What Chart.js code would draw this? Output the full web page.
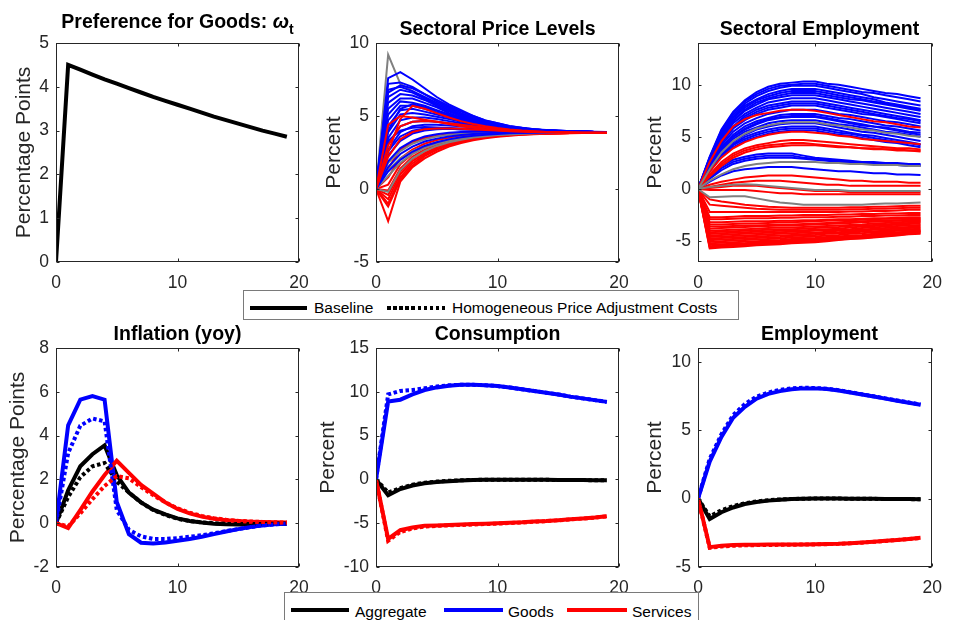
<!DOCTYPE html>
<html>
<head>
    <title>Goods preference shock | Impulse responses</title>
    <script src="https://cdn.jsdelivr.net/npm/chart.js"></script>
    <style>
        body { margin: 0; background: #fff; font-family: 'Liberation Sans', Arial, Helvetica, sans-serif; }
        #page { position: relative; width: 953px; height: 620px; overflow: hidden; }
        #page canvas { position: absolute; left: 0; top: 0; }
        .ttl { position: absolute; font-weight: bold; font-size: 19.5px; line-height: 20px; height: 20px;
               text-align: center; color: #000; white-space: nowrap; }
        .ttl sub { font-size: 14px; line-height: 0; vertical-align: -6px; }
        .lgbox { position: absolute; border: 1px solid #7a7a7a; background: #fff; }
        .lgtxt { position: absolute; font-size: 15.5px; line-height: 16px; color: #000; white-space: nowrap; }
        .lgline { position: absolute; height: 4px; }
    </style>
</head>
<body>
<div id="page">
    <canvas id="c1" width="953" height="620"></canvas>
    <canvas id="c2" width="953" height="620"></canvas>
    <canvas id="c3" width="953" height="620"></canvas>
    <canvas id="c4" width="953" height="620"></canvas>
    <canvas id="c5" width="953" height="620"></canvas>
    <canvas id="c6" width="953" height="620"></canvas>

    <div class="ttl" style="left:56px; top:11px; width:243px;">Preference for Goods: <i>&omega;</i><sub>t</sub></div>
    <div class="ttl" style="left:376px; top:18px; width:243px;">Sectoral Price Levels</div>
    <div class="ttl" style="left:698px; top:18px; width:243px;">Sectoral Employment</div>
    <div class="ttl" style="left:56px; top:323px; width:243px;">Inflation (yoy)</div>
    <div class="ttl" style="left:376px; top:323px; width:243px;">Consumption</div>
    <div class="ttl" style="left:698px; top:323px; width:243px;">Employment</div>

    <!-- legend: baseline vs homogeneous -->
    <div class="lgbox" style="left:243px; top:290px; width:494px; height:28px;"></div>
    <div class="lgline" style="left:250px; top:306px; width:57px; background:#000;"></div>
    <div class="lgtxt" style="left:314px; top:300px;">Baseline</div>
    <div class="lgline" style="left:387px; top:306px; width:61px; background:repeating-linear-gradient(to right,#000 0 3.5px,transparent 3.5px 6.1px);"></div>
    <div class="lgtxt" style="left:452px; top:300px;">Homogeneous Price Adjustment Costs</div>

    <!-- legend: sectors -->
    <div class="lgbox" style="left:284px; top:592px; width:413px; height:40px;"></div>
    <div class="lgline" style="left:291px; top:608px; width:58px; background:#000;"></div>
    <div class="lgtxt" style="left:355px; top:604px;">Aggregate</div>
    <div class="lgline" style="left:444px; top:608px; width:59px; background:#0000ff;"></div>
    <div class="lgtxt" style="left:508px; top:604px;">Goods</div>
    <div class="lgline" style="left:567px; top:608px; width:60px; background:#ff0000;"></div>
    <div class="lgtxt" style="left:632px; top:604px;">Services</div>
</div>

<script>
    const periods = [0, 1, 2, 3, 4, 5, 6, 7, 8, 9, 10, 11, 12, 13, 14, 15, 16, 17, 18, 19];
    const xTicks = [0, 10, 20];

    // preference for goods
    const omega = [0, 4.5, 4.39, 4.28, 4.17, 4.07, 3.97, 3.87, 3.77, 3.68, 3.59, 3.5, 3.41, 3.32, 3.24, 3.16, 3.08, 3.0, 2.93, 2.86];

    // inflation (yoy)
    const inflAggBase = [0, 1.5, 2.6, 3.15, 3.55, 2.2, 1.4, 0.95, 0.62, 0.4, 0.22, 0.1, 0.03, -0.02, -0.05, -0.06, -0.06, -0.05, -0.03, -0.02];
    const inflAggHom = [0, 1.2, 2.1, 2.6, 2.75, 1.9, 1.4, 0.95, 0.6, 0.38, 0.2, 0.1, 0.04, 0, -0.03, -0.04, -0.04, -0.03, -0.02, -0.01];
    const inflGoodsBase = [0, 4.47, 5.64, 5.8, 5.64, 0.97, -0.5, -0.89, -0.93, -0.88, -0.8, -0.72, -0.62, -0.5, -0.38, -0.27, -0.17, -0.1, -0.05, -0.02];
    const inflGoodsHom = [0, 3.2, 4.45, 4.78, 4.65, 0.6, -0.3, -0.6, -0.72, -0.72, -0.68, -0.62, -0.55, -0.46, -0.36, -0.27, -0.18, -0.1, -0.05, -0.02];
    const inflServBase = [0, -0.22, 0.6, 1.45, 2.2, 2.85, 2.3, 1.75, 1.35, 0.95, 0.65, 0.45, 0.3, 0.2, 0.14, 0.1, 0.07, 0.05, 0.04, 0.03];
    const inflServHom = [0, -0.15, 0.45, 1.1, 1.7, 2.15, 2.05, 1.65, 1.28, 0.95, 0.68, 0.48, 0.33, 0.23, 0.16, 0.11, 0.08, 0.06, 0.04, 0.03];

    // consumption
    const consAggBase = [0, -1.8, -1.1, -0.7, -0.45, -0.3, -0.2, -0.12, -0.08, -0.05, -0.03, -0.03, -0.03, -0.04, -0.05, -0.06, -0.07, -0.08, -0.09, -0.1];
    const consAggHom = [0, -1.5, -1.0, -0.6, -0.38, -0.25, -0.16, -0.1, -0.06, -0.04, -0.03, -0.03, -0.03, -0.04, -0.05, -0.06, -0.07, -0.08, -0.09, -0.1];
    const consGoodsBase = [0, 8.9, 9.1, 9.7, 10.2, 10.5, 10.7, 10.8, 10.8, 10.75, 10.65, 10.5, 10.3, 10.1, 9.9, 9.7, 9.45, 9.25, 9.05, 8.85];
    const consGoodsHom = [0, 9.7, 10.1, 10.2, 10.4, 10.6, 10.75, 10.8, 10.8, 10.75, 10.65, 10.5, 10.3, 10.1, 9.9, 9.7, 9.45, 9.25, 9.05, 8.85];
    const consServBase = [0, -6.8, -5.8, -5.5, -5.3, -5.25, -5.2, -5.15, -5.1, -5.05, -5.0, -4.95, -4.9, -4.8, -4.75, -4.65, -4.55, -4.45, -4.35, -4.2];
    const consServHom = [0, -7.0, -6.0, -5.6, -5.4, -5.3, -5.25, -5.2, -5.15, -5.1, -5.05, -4.98, -4.92, -4.83, -4.77, -4.67, -4.57, -4.47, -4.36, -4.22];

    // employment
    const empAggBase = [0, -1.5, -1.0, -0.65, -0.4, -0.25, -0.15, -0.08, -0.04, -0.02, 0, 0, 0, -0.01, -0.02, -0.02, -0.03, -0.03, -0.04, -0.05];
    const empAggHom = [0, -1.3, -0.85, -0.55, -0.34, -0.21, -0.12, -0.06, -0.03, -0.01, 0, 0, 0, -0.01, -0.02, -0.02, -0.03, -0.03, -0.04, -0.05];
    const empGoodsBase = [0, 2.7, 4.5, 5.9, 6.7, 7.3, 7.65, 7.85, 7.98, 8.05, 8.05, 8.0, 7.9, 7.75, 7.6, 7.45, 7.3, 7.15, 7.0, 6.85];
    const empGoodsHom = [0, 2.9, 4.7, 6.1, 6.9, 7.45, 7.75, 7.95, 8.05, 8.1, 8.08, 8.02, 7.92, 7.77, 7.62, 7.47, 7.32, 7.17, 7.02, 6.87];
    const empServBase = [0, -3.55, -3.45, -3.4, -3.38, -3.37, -3.36, -3.36, -3.35, -3.35, -3.34, -3.32, -3.3, -3.26, -3.21, -3.15, -3.09, -3.02, -2.95, -2.87];
    const empServHom = [0, -3.6, -3.5, -3.45, -3.42, -3.4, -3.39, -3.38, -3.37, -3.36, -3.35, -3.33, -3.31, -3.27, -3.22, -3.16, -3.1, -3.03, -2.96, -2.88];

    // sectoral price levels
    const priceGoods = [
        [0, 7.6, 8.0, 7.5, 6.9, 6.3, 5.8, 5.4, 5.0, 4.7, 4.5, 4.3, 4.2, 4.1, 4.0, 4.0, 3.95, 3.93, 3.92, 3.9],
        [0, 7.2, 7.3, 7.0, 6.5, 6.0, 5.6, 5.2, 4.9, 4.6, 4.4, 4.25, 4.15, 4.08, 4.02, 3.98, 3.95, 3.93, 3.91, 3.9],
        [0, 6.8, 7.0, 6.7, 6.3, 5.9, 5.5, 5.1, 4.8, 4.6, 4.4, 4.25, 4.15, 4.07, 4.02, 3.98, 3.95, 3.93, 3.91, 3.9],
        [0, 6.6, 7.1, 6.9, 6.5, 6.1, 5.7, 5.3, 5.0, 4.7, 4.5, 4.32, 4.2, 4.1, 4.04, 4.0, 3.96, 3.93, 3.91, 3.9],
        [0, 6.3, 6.8, 6.6, 6.2, 5.8, 5.4, 5.0, 4.75, 4.55, 4.4, 4.25, 4.15, 4.07, 4.02, 3.98, 3.95, 3.93, 3.91, 3.9],
        [0, 5.9, 6.5, 6.4, 6.1, 5.7, 5.3, 5.0, 4.7, 4.5, 4.35, 4.2, 4.12, 4.05, 4.0, 3.97, 3.95, 3.93, 3.91, 3.9],
        [0, 5.5, 6.2, 6.2, 5.9, 5.6, 5.2, 4.9, 4.65, 4.45, 4.3, 4.2, 4.1, 4.05, 4.0, 3.97, 3.95, 3.93, 3.91, 3.9],
        [0, 5.1, 6.0, 5.9, 5.7, 5.4, 5.1, 4.85, 4.6, 4.42, 4.28, 4.18, 4.1, 4.04, 4.0, 3.97, 3.94, 3.92, 3.91, 3.9],
        [0, 4.7, 5.7, 5.7, 5.5, 5.25, 5.0, 4.75, 4.55, 4.4, 4.25, 4.15, 4.08, 4.03, 3.99, 3.96, 3.94, 3.92, 3.91, 3.9],
        [0, 4.0, 5.5, 5.8, 5.6, 5.35, 5.1, 4.85, 4.62, 4.45, 4.3, 4.2, 4.1, 4.04, 4.0, 3.97, 3.94, 3.92, 3.91, 3.9],
        [0, 4.3, 5.4, 5.5, 5.3, 5.1, 4.9, 4.7, 4.5, 4.35, 4.22, 4.13, 4.07, 4.02, 3.99, 3.96, 3.94, 3.92, 3.91, 3.9],
        [0, 3.9, 5.1, 5.2, 5.1, 4.95, 4.8, 4.6, 4.45, 4.3, 4.2, 4.12, 4.06, 4.02, 3.98, 3.96, 3.94, 3.92, 3.91, 3.9],
        [0, 3.5, 4.7, 4.9, 4.9, 4.8, 4.65, 4.5, 4.38, 4.27, 4.18, 4.1, 4.05, 4.01, 3.98, 3.96, 3.94, 3.92, 3.91, 3.9],
        [0, 3.1, 4.3, 4.6, 4.65, 4.6, 4.5, 4.4, 4.3, 4.2, 4.13, 4.07, 4.03, 4.0, 3.97, 3.95, 3.93, 3.92, 3.91, 3.9],
        [0, 3.3, 4.0, 4.2, 4.25, 4.22, 4.18, 4.14, 4.1, 4.06, 4.02, 3.99, 3.97, 3.95, 3.94, 3.93, 3.92, 3.91, 3.9, 3.9],
        [0, 2.7, 3.9, 4.3, 4.4, 4.4, 4.35, 4.3, 4.22, 4.15, 4.1, 4.05, 4.01, 3.98, 3.96, 3.94, 3.93, 3.92, 3.91, 3.9],
        [0, 2.6, 3.6, 4.0, 4.15, 4.15, 4.12, 4.08, 4.05, 4.02, 4.0, 3.98, 3.96, 3.95, 3.94, 3.93, 3.92, 3.91, 3.9, 3.9],
        [0, 2.3, 3.3, 3.8, 4.0, 4.1, 4.12, 4.1, 4.08, 4.05, 4.02, 4.0, 3.98, 3.96, 3.95, 3.94, 3.93, 3.92, 3.91, 3.9],
        [0, 1.9, 2.8, 3.3, 3.6, 3.75, 3.85, 3.9, 3.92, 3.93, 3.93, 3.93, 3.92, 3.92, 3.91, 3.91, 3.9, 3.9, 3.9, 3.9],
        [0, 1.5, 2.4, 2.9, 3.25, 3.45, 3.6, 3.7, 3.77, 3.82, 3.85, 3.87, 3.88, 3.89, 3.89, 3.9, 3.9, 3.9, 3.9, 3.9],
        [0, 1.2, 2.0, 2.55, 2.95, 3.2, 3.4, 3.55, 3.65, 3.72, 3.77, 3.81, 3.84, 3.86, 3.87, 3.88, 3.89, 3.89, 3.9, 3.9]
    ];
    const priceServicesHigh = [
        [0, 4.4, 5.0, 4.9, 4.75, 4.6, 4.45, 4.3, 4.2, 4.1, 4.02, 3.97, 3.93, 3.9, 3.88, 3.87, 3.86, 3.86, 3.85, 3.85],
        [0, 2.5, 4.8, 5.7, 5.5, 5.2, 4.9, 4.65, 4.45, 4.3, 4.18, 4.08, 4.0, 3.95, 3.91, 3.89, 3.87, 3.86, 3.85, 3.85],
        [0, 3.0, 4.3, 4.6, 4.65, 4.6, 4.5, 4.4, 4.3, 4.2, 4.1, 4.03, 3.98, 3.94, 3.91, 3.89, 3.87, 3.86, 3.85, 3.85],
        [0, 2.2, 3.4, 3.9, 4.1, 4.15, 4.15, 4.12, 4.08, 4.04, 4.0, 3.96, 3.93, 3.91, 3.89, 3.88, 3.87, 3.86, 3.85, 3.85]
    ];
    const priceServicesLow = [
        [0, 1.4, 2.7, 3.2, 3.5, 3.65, 3.75, 3.8, 3.83, 3.84, 3.85, 3.85, 3.85, 3.85, 3.85, 3.85, 3.85, 3.85, 3.85, 3.85],
        [0, 0.8, 2.1, 2.7, 3.1, 3.35, 3.5, 3.62, 3.7, 3.75, 3.78, 3.8, 3.82, 3.83, 3.84, 3.84, 3.85, 3.85, 3.85, 3.85],
        [0, 0.3, 1.7, 2.4, 2.85, 3.15, 3.35, 3.5, 3.6, 3.67, 3.72, 3.76, 3.79, 3.81, 3.82, 3.83, 3.84, 3.84, 3.85, 3.85],
        [0, -0.1, 1.4, 2.2, 2.7, 3.0, 3.25, 3.42, 3.54, 3.63, 3.69, 3.74, 3.77, 3.8, 3.81, 3.82, 3.83, 3.84, 3.85, 3.85],
        [0, -0.4, 1.2, 2.05, 2.6, 2.95, 3.2, 3.38, 3.5, 3.6, 3.67, 3.72, 3.76, 3.79, 3.81, 3.82, 3.83, 3.84, 3.85, 3.85],
        [0, -0.7, 1.0, 1.9, 2.45, 2.85, 3.12, 3.32, 3.46, 3.57, 3.65, 3.71, 3.75, 3.78, 3.8, 3.82, 3.83, 3.84, 3.85, 3.85],
        [0, -1.0, 0.8, 1.75, 2.35, 2.75, 3.05, 3.27, 3.43, 3.55, 3.63, 3.7, 3.74, 3.78, 3.8, 3.82, 3.83, 3.84, 3.85, 3.85],
        [0, -1.2, 0.65, 1.6, 2.25, 2.68, 3.0, 3.23, 3.4, 3.52, 3.61, 3.68, 3.73, 3.77, 3.8, 3.82, 3.83, 3.84, 3.85, 3.85],
        [0, -2.2, 0.5, 1.5, 2.1, 2.55, 2.9, 3.15, 3.33, 3.47, 3.57, 3.65, 3.71, 3.75, 3.78, 3.8, 3.82, 3.83, 3.84, 3.85]
    ];
    const priceOther = [
        [0, 9.2, 7.2, 6.7, 6.2, 5.8, 5.4, 5.1, 4.8, 4.6, 4.4, 4.25, 4.15, 4.07, 4.02, 3.98, 3.95, 3.93, 3.91, 3.9],
        [0, 1.8, 2.6, 3.1, 3.4, 3.6, 3.72, 3.8, 3.85, 3.87, 3.88, 3.89, 3.89, 3.9, 3.9, 3.9, 3.9, 3.9, 3.9, 3.9],
        [0, 1.3, 2.1, 2.6, 2.95, 3.2, 3.4, 3.55, 3.65, 3.72, 3.77, 3.8, 3.83, 3.85, 3.86, 3.87, 3.88, 3.89, 3.89, 3.9],
        [0, 0.9, 1.8, 2.4, 2.8, 3.1, 3.32, 3.48, 3.6, 3.68, 3.74, 3.78, 3.82, 3.84, 3.86, 3.87, 3.88, 3.89, 3.89, 3.9],
        [0, -0.2, 1.3, 2.1, 2.6, 2.95, 3.2, 3.38, 3.52, 3.62, 3.69, 3.74, 3.78, 3.81, 3.83, 3.85, 3.86, 3.87, 3.88, 3.9]
    ];

    // sectoral employment
    const sectEmpGoods = [
        [0, 3.1, 5.7, 7.4, 8.5, 9.3, 9.8, 10.1, 10.2, 10.3, 10.3, 10.1, 10.0, 9.8, 9.6, 9.4, 9.2, 9.1, 8.9, 8.7],
        [0, 3.0, 5.6, 7.3, 8.4, 9.1, 9.6, 9.9, 10.0, 10.1, 10.1, 9.9, 9.7, 9.5, 9.3, 9.2, 9.0, 8.8, 8.6, 8.4],
        [0, 3.0, 5.4, 7.1, 8.2, 8.9, 9.4, 9.7, 9.9, 9.9, 9.9, 9.7, 9.5, 9.3, 9.1, 8.8, 8.6, 8.4, 8.2, 8.0],
        [0, 2.9, 5.3, 6.9, 8.0, 8.6, 9.1, 9.4, 9.6, 9.6, 9.6, 9.4, 9.2, 9.0, 8.8, 8.6, 8.3, 8.1, 7.9, 7.7],
        [0, 2.8, 5.2, 6.8, 7.8, 8.5, 8.9, 9.2, 9.4, 9.4, 9.4, 9.2, 9.0, 8.8, 8.6, 8.4, 8.2, 8.0, 7.8, 7.6],
        [0, 2.8, 5.1, 6.6, 7.6, 8.3, 8.7, 9.0, 9.2, 9.2, 9.2, 9.0, 8.8, 8.6, 8.5, 8.3, 8.1, 7.9, 7.7, 7.5],
        [0, 2.7, 5.0, 6.5, 7.5, 8.1, 8.6, 8.8, 9.0, 9.0, 9.0, 8.8, 8.6, 8.4, 8.2, 8.0, 7.8, 7.6, 7.4, 7.2],
        [0, 2.6, 4.8, 6.3, 7.2, 7.8, 8.3, 8.5, 8.7, 8.7, 8.7, 8.5, 8.3, 8.1, 7.9, 7.7, 7.5, 7.3, 7.1, 6.9],
        [0, 2.5, 4.6, 6.0, 7.0, 7.6, 8.0, 8.2, 8.4, 8.4, 8.4, 8.2, 8.0, 7.8, 7.6, 7.4, 7.2, 7.0, 6.8, 6.6],
        [0, 2.5, 4.5, 5.9, 6.8, 7.4, 7.8, 8.0, 8.2, 8.2, 8.2, 8.0, 7.8, 7.6, 7.4, 7.2, 7.0, 6.8, 6.7, 6.5],
        [0, 2.4, 4.4, 5.8, 6.6, 7.2, 7.6, 7.8, 8.0, 8.0, 8.0, 7.8, 7.6, 7.4, 7.2, 7.1, 6.9, 6.7, 6.5, 6.3],
        [0, 2.3, 4.2, 5.5, 6.3, 6.8, 7.2, 7.4, 7.6, 7.6, 7.6, 7.4, 7.2, 7.1, 6.9, 6.7, 6.5, 6.4, 6.2, 6.0],
        [0, 2.2, 4.0, 5.2, 6.0, 6.5, 6.8, 7.1, 7.2, 7.2, 7.2, 7.0, 6.8, 6.7, 6.5, 6.3, 6.1, 6.0, 5.8, 5.6],
        [0, 2.1, 3.9, 5.0, 5.8, 6.3, 6.7, 6.9, 7.0, 7.0, 7.0, 6.8, 6.6, 6.4, 6.2, 6.0, 5.9, 5.7, 5.5, 5.4],
        [0, 2.1, 3.8, 5.0, 5.7, 6.2, 6.6, 6.8, 6.9, 6.9, 6.9, 6.7, 6.5, 6.3, 6.1, 6.0, 5.8, 5.6, 5.4, 5.2],
        [0, 2.0, 3.6, 4.8, 5.5, 5.9, 6.3, 6.5, 6.6, 6.6, 6.6, 6.4, 6.2, 6.1, 5.9, 5.7, 5.5, 5.4, 5.2, 5.0],
        [0, 1.9, 3.5, 4.5, 5.2, 5.7, 6.0, 6.2, 6.3, 6.3, 6.3, 6.1, 5.9, 5.7, 5.5, 5.4, 5.2, 5.0, 4.8, 4.6],
        [0, 1.8, 3.3, 4.3, 5.0, 5.4, 5.7, 5.9, 6.0, 6.0, 6.0, 5.8, 5.6, 5.4, 5.2, 5.1, 4.9, 4.7, 4.5, 4.3],
        [0, 1.7, 3.2, 4.2, 4.8, 5.2, 5.5, 5.7, 5.8, 5.8, 5.8, 5.6, 5.4, 5.3, 5.1, 4.9, 4.7, 4.5, 4.4, 4.2],
        [0, 1.7, 3.1, 4.0, 4.6, 5.0, 5.3, 5.5, 5.6, 5.6, 5.6, 5.4, 5.2, 5.1, 4.9, 4.7, 4.5, 4.4, 4.2, 4.0],
        [0, 1.2, 2.2, 2.8, 3.1, 3.3, 3.4, 3.4, 3.4, 3.2, 3.0, 2.9, 2.8, 2.7, 2.6, 2.6, 2.5, 2.5, 2.4, 2.4],
        [0, 1.1, 2.0, 2.6, 2.9, 3.1, 3.2, 3.2, 3.2, 3.0, 2.9, 2.8, 2.7, 2.6, 2.5, 2.5, 2.4, 2.4, 2.3, 2.3],
        [0, 1.0, 1.8, 2.4, 2.7, 2.9, 3.0, 3.0, 3.0, 2.9, 2.8, 2.7, 2.6, 2.5, 2.4, 2.4, 2.3, 2.3, 2.2, 2.2],
        [0, 0.7, 1.3, 1.7, 1.9, 2.0, 2.1, 2.1, 2.1, 2.0, 1.9, 1.8, 1.7, 1.7, 1.6, 1.5, 1.5, 1.4, 1.4, 1.35]
    ];
    const sectEmpServices = [
        [0, 2.6, 4.6, 6.0, 6.7, 7.1, 7.3, 7.5, 7.6, 7.6, 7.5, 7.3, 7.1, 6.9, 6.7, 6.5, 6.4, 6.2, 6.0, 5.9],
        [0, 1.7, 3.0, 3.9, 4.5, 4.9, 5.2, 5.4, 5.5, 5.5, 5.4, 5.3, 5.1, 5.0, 4.8, 4.7, 4.6, 4.5, 4.4, 4.3],
        [0, 1.4, 2.6, 3.4, 3.9, 4.2, 4.4, 4.6, 4.7, 4.7, 4.6, 4.5, 4.4, 4.3, 4.2, 4.1, 4.0, 3.9, 3.9, 3.8],
        [0, 1.3, 2.4, 3.2, 3.7, 4.0, 4.2, 4.3, 4.4, 4.4, 4.3, 4.2, 4.1, 4.0, 3.9, 3.8, 3.8, 3.7, 3.7, 3.6],
        [0, 1.2, 2.2, 3.0, 3.5, 3.8, 4.0, 4.1, 4.2, 4.2, 4.2, 4.1, 4.0, 4.0, 3.9, 3.9, 3.8, 3.8, 3.7, 3.7],
        [0, 0.4, 0.7, 0.9, 1.1, 1.2, 1.3, 1.3, 1.3, 1.2, 1.1, 1.0, 0.9, 0.8, 0.8, 0.7, 0.7, 0.7, 0.6, 0.6],
        [0, 0.2, 0.4, 0.6, 0.7, 0.8, 0.8, 0.8, 0.7, 0.6, 0.5, 0.4, 0.4, 0.3, 0.3, 0.3, 0.3, 0.3, 0.3, 0.3],
        [0, 0.1, 0.2, 0.3, 0.3, 0.3, 0.2, 0.1, 0.0, -0.1, -0.2, -0.2, -0.2, -0.3, -0.3, -0.3, -0.3, -0.3, -0.3, -0.3],
        [0, -0.1, -0.1, -0.1, -0.1, -0.2, -0.3, -0.4, -0.4, -0.5, -0.5, -0.5, -0.5, -0.5, -0.5, -0.5, -0.5, -0.5, -0.5, -0.5],
        [0, -1.0, -1.2, -1.35, -1.5, -1.6, -1.7, -1.75, -1.8, -1.8, -1.8, -1.8, -1.8, -1.75, -1.75, -1.7, -1.7, -1.65, -1.6, -1.6],
        [0, -1.5, -1.6, -1.7, -1.8, -1.9, -1.95, -2.0, -2.0, -2.0, -2.0, -2.0, -2.0, -1.95, -1.95, -1.9, -1.9, -1.85, -1.8, -1.8],
        [0, -2.2, -2.2, -2.2, -2.2, -2.2, -2.2, -2.2, -2.2, -2.2, -2.2, -2.2, -2.2, -2.15, -2.15, -2.1, -2.1, -2.05, -2.0, -2.0],
        [0, -2.7, -2.7, -2.65, -2.6, -2.6, -2.6, -2.55, -2.55, -2.5, -2.5, -2.5, -2.45, -2.45, -2.4, -2.4, -2.35, -2.35, -2.3, -2.3],
        [0, -2.9, -2.9, -2.85, -2.8, -2.8, -2.8, -2.75, -2.75, -2.7, -2.7, -2.7, -2.65, -2.65, -2.6, -2.6, -2.55, -2.55, -2.5, -2.5],
        [0, -3.2, -3.2, -3.15, -3.1, -3.1, -3.1, -3.05, -3.05, -3.0, -3.0, -2.95, -2.9, -2.9, -2.85, -2.8, -2.8, -2.75, -2.7, -2.7],
        [0, -3.4, -3.4, -3.35, -3.3, -3.3, -3.25, -3.2, -3.2, -3.15, -3.1, -3.05, -3.0, -3.0, -2.95, -2.9, -2.85, -2.85, -2.8, -2.8],
        [0, -3.6, -3.6, -3.55, -3.5, -3.5, -3.45, -3.4, -3.4, -3.35, -3.3, -3.25, -3.2, -3.15, -3.1, -3.05, -3.0, -3.0, -2.95, -2.9],
        [0, -3.8, -3.75, -3.7, -3.65, -3.6, -3.55, -3.5, -3.5, -3.45, -3.4, -3.35, -3.3, -3.25, -3.2, -3.15, -3.1, -3.05, -3.0, -3.0],
        [0, -4.0, -3.95, -3.9, -3.85, -3.8, -3.75, -3.7, -3.7, -3.65, -3.6, -3.55, -3.5, -3.45, -3.4, -3.3, -3.25, -3.2, -3.15, -3.1],
        [0, -4.15, -4.1, -4.05, -4.0, -3.95, -3.9, -3.85, -3.85, -3.8, -3.75, -3.7, -3.65, -3.55, -3.5, -3.45, -3.4, -3.3, -3.25, -3.2],
        [0, -4.3, -4.25, -4.2, -4.15, -4.1, -4.05, -4.0, -4.0, -3.95, -3.9, -3.85, -3.8, -3.7, -3.6, -3.55, -3.5, -3.4, -3.35, -3.3],
        [0, -4.45, -4.4, -4.35, -4.3, -4.25, -4.2, -4.15, -4.1, -4.05, -4.0, -3.95, -3.9, -3.85, -3.75, -3.7, -3.6, -3.55, -3.5, -3.45],
        [0, -4.6, -4.55, -4.5, -4.45, -4.4, -4.35, -4.3, -4.25, -4.2, -4.2, -4.1, -4.0, -3.95, -3.9, -3.8, -3.75, -3.7, -3.65, -3.6],
        [0, -4.75, -4.7, -4.65, -4.6, -4.55, -4.5, -4.45, -4.4, -4.35, -4.3, -4.2, -4.15, -4.05, -4.0, -3.9, -3.85, -3.8, -3.75, -3.7],
        [0, -4.9, -4.85, -4.8, -4.75, -4.7, -4.65, -4.6, -4.5, -4.45, -4.4, -4.3, -4.25, -4.2, -4.1, -4.05, -4.0, -3.9, -3.85, -3.8],
        [0, -5.05, -5.0, -4.95, -4.9, -4.85, -4.8, -4.75, -4.65, -4.6, -4.55, -4.45, -4.4, -4.3, -4.25, -4.15, -4.1, -4.0, -3.95, -3.9],
        [0, -5.2, -5.15, -5.1, -5.05, -5.0, -4.95, -4.9, -4.8, -4.75, -4.7, -4.6, -4.55, -4.45, -4.4, -4.3, -4.2, -4.15, -4.1, -4.0],
        [0, -5.35, -5.3, -5.25, -5.2, -5.1, -5.05, -5.0, -4.9, -4.85, -4.8, -4.7, -4.65, -4.55, -4.5, -4.4, -4.3, -4.2, -4.15, -4.05],
        [0, -5.5, -5.4, -5.35, -5.3, -5.2, -5.15, -5.1, -5.0, -4.95, -4.9, -4.8, -4.75, -4.65, -4.6, -4.5, -4.4, -4.3, -4.2, -4.1],
        [0, -5.6, -5.5, -5.45, -5.4, -5.3, -5.25, -5.2, -5.1, -5.05, -5.0, -4.9, -4.85, -4.75, -4.7, -4.6, -4.5, -4.4, -4.3, -4.2],
        [0, -5.7, -5.6, -5.55, -5.5, -5.4, -5.35, -5.3, -5.2, -5.15, -5.1, -5.0, -4.9, -4.8, -4.75, -4.65, -4.55, -4.45, -4.35, -4.3]
    ];
    const sectEmpOther = [
        [0, 1.9, 3.5, 4.6, 5.3, 5.8, 6.1, 6.3, 6.4, 6.4, 6.4, 6.2, 6.1, 5.9, 5.7, 5.6, 5.4, 5.3, 5.1, 5.0],
        [0, 0.8, 1.4, 1.9, 2.2, 2.4, 2.5, 2.6, 2.6, 2.6, 2.6, 2.5, 2.5, 2.4, 2.4, 2.3, 2.3, 2.3, 2.2, 2.2],
        [0, 0.2, 0.3, 0.4, 0.45, 0.4, 0.3, 0.2, 0.1, 0.0, -0.1, -0.1, -0.1, -0.2, -0.2, -0.2, -0.2, -0.2, -0.2, -0.2],
        [0, -0.8, -0.75, -0.7, -0.7, -0.9, -1.1, -1.3, -1.4, -1.5, -1.5, -1.5, -1.5, -1.5, -1.5, -1.45, -1.4, -1.4, -1.35, -1.3]
    ];

    const W = 953, H = 620, X_AXIS_H = 30;
    const FONT = "'Liberation Sans', Arial, Helvetica, sans-serif";
    const AXIS_COLOR = '#262626';
    const BLACK = '#000000', BLUE = '#0000ff', RED = '#ff0000', GRAY = '#808080';
    const DOTS = [3.5, 2.6];

    function line(values, color, width, dash) {
        return {
            data: values.map((v, i) => ({ x: periods[i], y: v })),
            borderColor: color,
            borderWidth: width,
            borderDash: dash || [],
            borderCapStyle: 'butt',
            pointRadius: 0,
            fill: false,
            tension: 0
        };
    }

    // box and inward tick marks, matlab style
    const frame = {
        id: 'frame',
        afterDatasetsDraw(chart) {
            const { ctx, chartArea: a, scales: { x, y } } = chart;
            ctx.save();
            ctx.strokeStyle = AXIS_COLOR;
            ctx.lineWidth = 1;
            const l = Math.round(a.left) + 0.5, r = Math.round(a.right) - 0.5;
            const t = Math.round(a.top) + 0.5, b = Math.round(a.bottom) - 0.5;
            ctx.strokeRect(l, t, r - l, b - t);
            ctx.beginPath();
            x.ticks.forEach(tk => {
                const px = Math.round(x.getPixelForValue(tk.value)) + 0.5;
                ctx.moveTo(px, b); ctx.lineTo(px, b - 3);
                ctx.moveTo(px, t); ctx.lineTo(px, t + 3);
            });
            y.ticks.forEach(tk => {
                const py = Math.round(y.getPixelForValue(tk.value)) + 0.5;
                ctx.moveTo(l, py); ctx.lineTo(l + 3, py);
                ctx.moveTo(r, py); ctx.lineTo(r - 3, py);
            });
            ctx.stroke();
            ctx.restore();
        }
    };

    function makePanel(id, box, yMin, yMax, yTicks, yTitle, stack) {
        const [left, top, right, bottom, yAxisW] = box;
        new Chart(document.getElementById(id), {
            type: 'line',
            // first dataset is painted last in chart.js, so flip the stack
            data: { datasets: stack.slice().reverse() },
            options: {
                responsive: false,
                animation: false,
                devicePixelRatio: 1,
                events: [],
                layout: { padding: { left: left - yAxisW, top: top, right: W - right, bottom: H - bottom - X_AXIS_H } },
                plugins: { legend: { display: false }, tooltip: { enabled: false } },
                scales: {
                    x: {
                        type: 'linear', min: 0, max: 20,
                        grid: { display: false, drawTicks: false },
                        border: { display: false },
                        ticks: { font: { family: FONT, size: 17.5 }, color: AXIS_COLOR, padding: 11, maxRotation: 0 },
                        afterBuildTicks: s => { s.ticks = xTicks.map(v => ({ value: v })); },
                        afterFit: s => { s.height = X_AXIS_H; }
                    },
                    y: {
                        type: 'linear', min: yMin, max: yMax,
                        grid: { display: false, drawTicks: false },
                        border: { display: false },
                        ticks: { font: { family: FONT, size: 17.5 }, color: AXIS_COLOR, padding: 7 },
                        title: { display: true, text: yTitle, font: { family: FONT, size: 21 }, color: AXIS_COLOR, padding: 0 },
                        afterBuildTicks: s => { s.ticks = yTicks.map(v => ({ value: v })); },
                        afterFit: s => { s.width = yAxisW; }
                    }
                }
            },
            plugins: [frame]
        });
    }

    makePanel('c1', [56, 43, 299, 262, 44], 0, 5, [0, 1, 2, 3, 4, 5], 'Percentage Points',
        [line(omega, BLACK, 4)]);

    makePanel('c2', [376, 43, 619, 262, 54], -5, 10, [-5, 0, 5, 10], 'Percent', [
        ...priceServicesLow.map(v => line(v, RED, 2)),
        ...priceOther.map(v => line(v, GRAY, 2)),
        ...priceGoods.map(v => line(v, BLUE, 2)),
        ...priceServicesHigh.map(v => line(v, RED, 2))
    ]);

    makePanel('c3', [698, 43, 941, 262, 55], -7, 14, [-5, 0, 5, 10], 'Percent', [
        ...sectEmpGoods.map(v => line(v, BLUE, 2)),
        ...sectEmpServices.map(v => line(v, RED, 2)),
        ...sectEmpOther.map(v => line(v, GRAY, 2))
    ]);

    makePanel('c4', [56, 348, 299, 567, 50], -2, 8, [-2, 0, 2, 4, 6, 8], 'Percentage Points', [
        line(inflAggBase, BLACK, 4), line(inflGoodsBase, BLUE, 4), line(inflServBase, RED, 4),
        line(inflAggHom, BLACK, 4, DOTS), line(inflGoodsHom, BLUE, 4, DOTS), line(inflServHom, RED, 4, DOTS)
    ]);

    makePanel('c5', [376, 348, 619, 567, 60], -10, 15, [-10, -5, 0, 5, 10, 15], 'Percent', [
        line(consAggBase, BLACK, 4), line(consGoodsBase, BLUE, 4), line(consServBase, RED, 4),
        line(consAggHom, BLACK, 4, DOTS), line(consGoodsHom, BLUE, 4, DOTS), line(consServHom, RED, 4, DOTS)
    ]);

    makePanel('c6', [698, 348, 941, 567, 55], -5, 11, [-5, 0, 5, 10], 'Percent', [
        line(empAggBase, BLACK, 4), line(empGoodsBase, BLUE, 4), line(empServBase, RED, 4),
        line(empAggHom, BLACK, 4, DOTS), line(empGoodsHom, BLUE, 4, DOTS), line(empServHom, RED, 4, DOTS)
    ]);
</script>
</body>
</html>
